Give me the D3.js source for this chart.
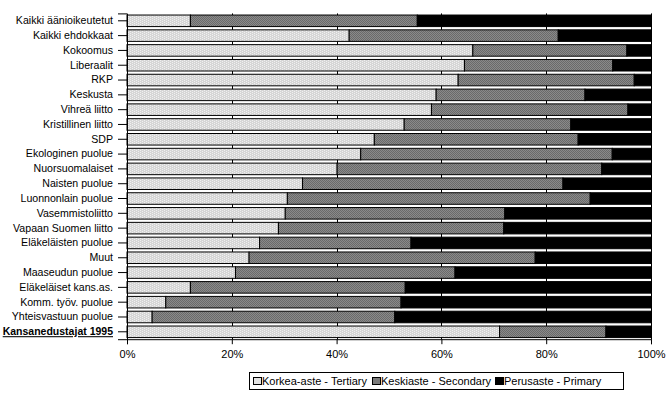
<!DOCTYPE html>
<html>
<head>
<meta charset="utf-8">
<script src="https://cdn.jsdelivr.net/npm/d3@7"></script>
<style>
  body { margin: 0; background: #fff; }
  svg { display: block; font-family: Arial, "Liberation Sans", sans-serif; }
</style>
</head>
<body>
<div id="chart"></div>
<script>
// -- data ---------------------------------------------------------------
const categories = [
  'Kaikki äänioikeutetut', 'Kaikki ehdokkaat', 'Kokoomus', 'Liberaalit', 'RKP',
  'Keskusta', 'Vihreä liitto', 'Kristillinen liitto', 'SDP', 'Ekologinen puolue',
  'Nuorsuomalaiset', 'Naisten puolue', 'Luonnonlain puolue', 'Vasemmistoliitto',
  'Vapaan Suomen liitto', 'Eläkeläisten puolue', 'Muut', 'Maaseudun puolue',
  'Eläkeläiset kans.as.', 'Komm. työv. puolue', 'Yhteisvastuun puolue',
  'Kansanedustajat 1995'
];
const tertiary  = [12.1, 42.4, 66.0, 64.4, 63.2, 59.0, 58.1, 52.9, 47.2, 44.6, 40.1,
                   33.5, 30.6, 30.2, 28.9, 25.3, 23.3, 20.7, 12.1, 7.4, 4.8, 71.1];
const secondary = [43.3, 39.9, 29.4, 28.3, 33.6, 28.4, 37.5, 31.8, 38.9, 48.0, 50.5,
                   49.7, 57.8, 41.9, 43.0, 28.9, 54.6, 41.9, 41.0, 44.9, 46.3, 20.3];
const primary   = [44.6, 17.7, 4.6, 7.3, 3.2, 12.6, 4.4, 15.3, 13.9, 7.4, 9.4,
                   16.8, 11.6, 27.9, 28.1, 45.8, 22.1, 37.4, 46.9, 47.7, 48.9, 8.6];
const seriesNames = ['Korkea-aste - Tertiary', 'Keskiaste - Secondary', 'Perusaste - Primary'];
const xTicks = [0, 20, 40, 60, 80, 100];

// -- layout -------------------------------------------------------------
const W = 668, H = 397;
const plot = { left: 127, right: 651, top: 13.4, bottom: 339.2 };

const svg = d3.select('#chart').append('svg')
  .attr('width', W).attr('height', H);

// dithered fills, like the original picture
const defs = svg.append('defs');
const pT = defs.append('pattern').attr('id', 'pat-t')
  .attr('patternUnits', 'userSpaceOnUse').attr('width', 4).attr('height', 2);
pT.append('rect').attr('width', 4).attr('height', 2).attr('fill', '#d6d6d6');
pT.append('rect').attr('x', 0).attr('y', 0).attr('width', 1).attr('height', 1).attr('fill', '#f0f0f0');
pT.append('rect').attr('x', 2).attr('y', 1).attr('width', 1).attr('height', 1).attr('fill', '#f0f0f0');

const pS = defs.append('pattern').attr('id', 'pat-s')
  .attr('patternUnits', 'userSpaceOnUse').attr('width', 2).attr('height', 2);
pS.append('rect').attr('width', 2).attr('height', 2).attr('fill', '#8a8a8a');
pS.append('rect').attr('x', 0).attr('y', 0).attr('width', 1).attr('height', 1).attr('fill', '#6a6a6a');
pS.append('rect').attr('x', 1).attr('y', 1).attr('width', 1).attr('height', 1).attr('fill', '#6a6a6a');

const fills = ['url(#pat-t)', 'url(#pat-s)', '#000'];
const legendFills = ['#e4e4e4', '#7a7a7a', '#000'];

const x = d3.scaleLinear().domain([0, 100]).range([plot.left, plot.right]);
const y = d3.scaleBand().domain(categories)
  .range([plot.top, plot.bottom]).paddingInner(0.22).paddingOuter(0.11);

// gridlines behind bars
svg.append('g').selectAll('line')
  .data(xTicks.slice(1))
  .join('line')
  .attr('x1', d => Math.round(x(d)) + 0.5).attr('x2', d => Math.round(x(d)) + 0.5)
  .attr('y1', plot.top).attr('y2', plot.bottom)
  .attr('stroke', '#000').attr('stroke-width', 1);

// stacked bars
const rows = categories.map((c, i) => ({ cat: c, vals: [tertiary[i], secondary[i], primary[i]] }));
const stack = d3.stack().keys([0, 1, 2]).value((d, k) => d.vals[k]);
const layers = stack(rows);

svg.append('g').selectAll('g')
  .data(layers)
  .join('g')
  .attr('fill', (d, i) => fills[i])
  .selectAll('rect')
  .data(d => d)
  .join('rect')
  .attr('x', d => x(d[0]))
  .attr('y', d => y(d.data.cat))
  .attr('width', d => x(Math.min(d[1], 100)) - x(d[0]))
  .attr('height', y.bandwidth())
  .attr('stroke', '#000').attr('stroke-width', 1);

// axes
const xAxis = d3.axisBottom(x).tickValues(xTicks).tickFormat(d => d + '%')
  .tickSize(5).tickPadding(6);
const gx = svg.append('g').attr('transform', `translate(0,${plot.bottom})`).call(xAxis);
gx.select('.domain').attr('stroke', '#000');
gx.selectAll('text').attr('font-size', 11).attr('fill', '#000')
  .attr('font-family', 'Arial, "Liberation Sans", sans-serif');

const yAxis = d3.axisLeft(y).tickSize(9).tickPadding(5);
const gy = svg.append('g').attr('transform', `translate(${plot.left},0)`).call(yAxis);
gy.select('.domain').attr('stroke', '#000');
gy.selectAll('text').attr('font-size', 10.6).attr('fill', '#000')
  .attr('font-family', 'Arial, "Liberation Sans", sans-serif');
gy.selectAll('.tick').filter(d => d === 'Kansanedustajat 1995')
  .select('text')
  .attr('font-weight', 'bold')
  .attr('font-size', 10.5)
  .attr('text-decoration', 'underline');

// legend
const lg = svg.append('g').attr('transform', 'translate(249,372)');
lg.append('rect').attr('x', 0.5).attr('y', 0.5).attr('width', 374).attr('height', 17)
  .attr('fill', '#fff').attr('stroke', '#000');
const legendX = [4, 123, 246];
seriesNames.forEach((name, i) => {
  const g = lg.append('g').attr('transform', `translate(${legendX[i]},0)`);
  g.append('rect').attr('x', 0.5).attr('y', 5.5).attr('width', 8).attr('height', 7)
    .attr('fill', legendFills[i]).attr('stroke', '#000');
  g.append('text').attr('x', 9).attr('y', 13)
    .attr('font-size', 11).attr('fill', '#000').text(name);
});
</script>
</body>
</html>
